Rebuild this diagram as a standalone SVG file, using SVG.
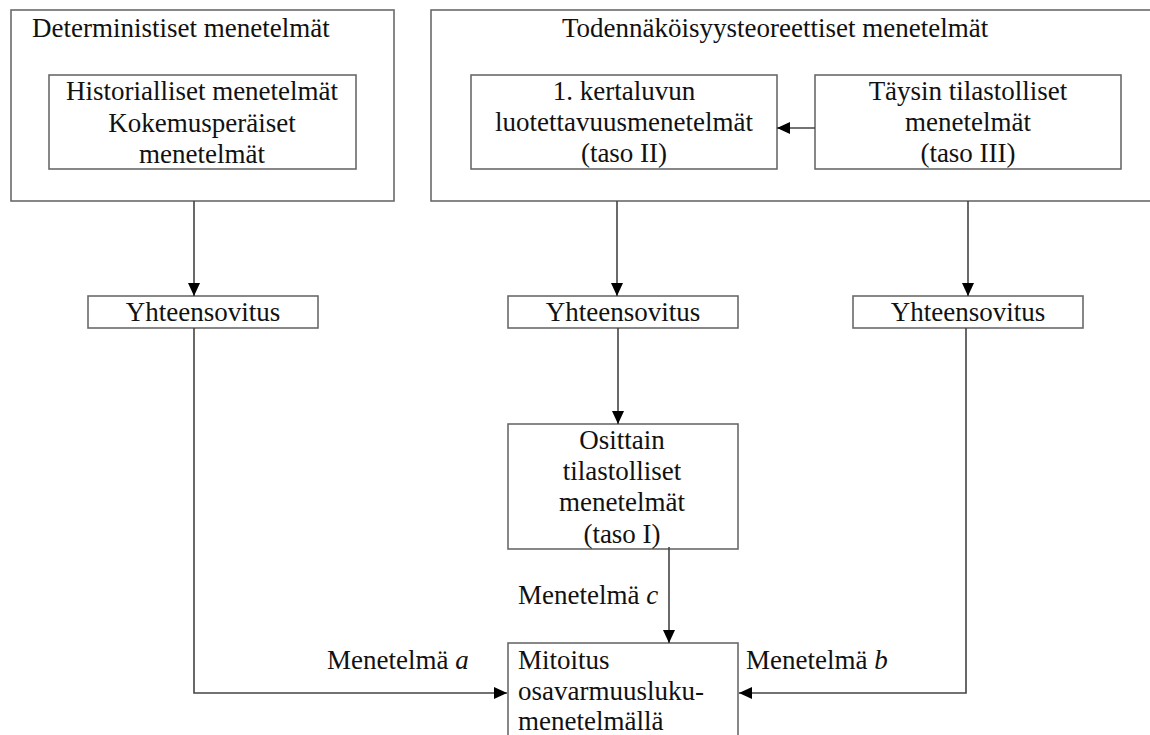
<svg xmlns="http://www.w3.org/2000/svg" width="1150" height="735" viewBox="0 0 1150 735">
<style>
.box{fill:#fff;stroke:#6a6a6a;stroke-width:1.6}
.t{font-family:'Liberation Serif','Tinos','Times New Roman','DejaVu Serif',serif;font-size:27px;fill:#111}
.c{text-anchor:middle}
.ln{fill:none;stroke:#444;stroke-width:1.6}
</style>
<defs>
<marker id="ah" markerUnits="userSpaceOnUse" markerWidth="14" markerHeight="12" refX="13" refY="6" orient="auto">
<path d="M0,0 L13,6 L0,12 z" fill="#000"/>
</marker>
</defs>
<rect width="1150" height="735" fill="#fff"/>
<g id="det">
<rect class="box" x="11" y="10" width="383" height="191"/>
<text class="t" x="32" y="37">Deterministiset menetelmät</text>
</g>
<g id="hist">
<rect class="box" x="49" y="75" width="307" height="94"/>
<text class="t c" x="202" y="100">Historialliset menetelmät</text>
<text class="t c" x="202" y="132">Kokemusperäiset</text>
<text class="t c" x="202" y="163">menetelmät</text>
</g>
<g id="tod">
<rect class="box" x="431" y="10" width="730" height="191"/>
<text class="t" x="562" y="37">Todennäköisyysteoreettiset menetelmät</text>
</g>
<g id="taso2">
<rect class="box" x="471" y="75" width="306" height="94"/>
<text class="t c" x="624" y="100">1. kertaluvun</text>
<text class="t c" x="624" y="131">luotettavuusmenetelmät</text>
<text class="t c" x="624" y="162">(taso II)</text>
</g>
<g id="taso3">
<rect class="box" x="815" y="75" width="306" height="94"/>
<text class="t c" x="968" y="100">Täysin tilastolliset</text>
<text class="t c" x="968" y="131">menetelmät</text>
<text class="t c" x="968" y="162">(taso III)</text>
</g>
<g id="y1">
<rect class="box" x="88" y="296" width="230" height="32"/>
<text class="t c" x="203" y="321">Yhteensovitus</text>
</g>
<g id="y2">
<rect class="box" x="508" y="296" width="230" height="32"/>
<text class="t c" x="623" y="321">Yhteensovitus</text>
</g>
<g id="y3">
<rect class="box" x="853" y="296" width="230" height="32"/>
<text class="t c" x="968" y="321">Yhteensovitus</text>
</g>
<g id="taso1">
<rect class="box" x="508" y="424" width="230" height="125"/>
<text class="t c" x="622" y="449">Osittain</text>
<text class="t c" x="622" y="480">tilastolliset</text>
<text class="t c" x="622" y="511">menetelmät</text>
<text class="t c" x="622" y="543">(taso I)</text>
</g>
<g id="mitoitus">
<rect class="box" x="508" y="643" width="230" height="100"/>
<text class="t" x="518" y="669">Mitoitus</text>
<text class="t" x="518" y="700">osavarmuusluku-</text>
<text class="t" x="518" y="730">menetelmällä</text>
</g>
<g id="connectors">
<path class="ln" d="M194 201 V296" marker-end="url(#ah)"/>
<path class="ln" d="M617 201 V296" marker-end="url(#ah)"/>
<path class="ln" d="M968 201 V296" marker-end="url(#ah)"/>
<path class="ln" d="M815 128 H777" marker-end="url(#ah)"/>
<path class="ln" d="M618 328 V424" marker-end="url(#ah)"/>
<path class="ln" d="M669 547 V643" marker-end="url(#ah)"/>
<path class="ln" d="M194 328 V693 H507" marker-end="url(#ah)"/>
<path class="ln" d="M966 328 V693 H739" marker-end="url(#ah)"/>
</g>
<g id="labels">
<text class="t" x="518" y="604">Menetelmä <tspan font-style="italic">c</tspan></text>
<text class="t" x="327" y="669">Menetelmä <tspan font-style="italic">a</tspan></text>
<text class="t" x="746" y="669">Menetelmä <tspan font-style="italic">b</tspan></text>
</g>
</svg>
